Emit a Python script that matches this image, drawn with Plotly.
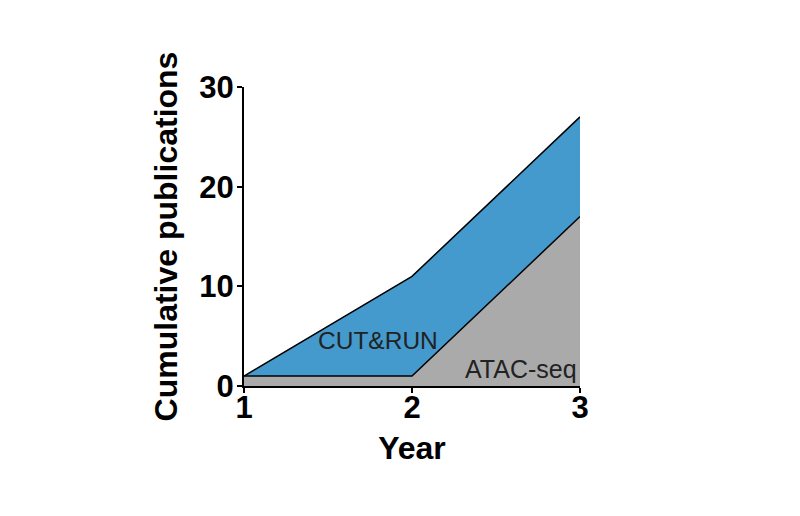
import plotly.graph_objects as go

years = [1, 2, 3]
cut_and_run = [1, 11, 27]
atac_seq = [1, 1, 17]

fig = go.Figure()

# gray area underneath, blue stacked on top of it
fig.add_trace(go.Scatter(x=years, y=atac_seq, mode="lines", name="ATAC-seq",
                         line=dict(color="black", width=1.5),
                         fill="tozeroy", fillcolor="#aaaaaa"))
fig.add_trace(go.Scatter(x=years, y=cut_and_run, mode="lines", name="CUT&RUN",
                         line=dict(color="black", width=1.5),
                         fill="tonexty", fillcolor="#4499cd"))

fig.add_annotation(x=1.8, y=4.6, text="CUT&RUN", showarrow=False,
                   font=dict(family="Liberation Sans", size=24.5, color="#222222"))
fig.add_annotation(x=2.65, y=1.7, text="ATAC-seq", showarrow=False,
                   font=dict(family="Liberation Sans", size=25, color="#222222"))

fig.update_xaxes(range=[1, 3], tickvals=years, showline=True, linecolor="black",
                 linewidth=2, ticks="outside", ticklen=5, tickwidth=2,
                 tickcolor="black", showgrid=False, zeroline=False,
                 ticklabelstandoff=-12,
                 tickfont=dict(family="Liberation Sans", size=31, color="black", weight="bold"),
                 title=dict(text="Year", standoff=12,
                            font=dict(family="Liberation Sans", size=32, color="black", weight="bold")))
fig.update_yaxes(range=[0, 30], tickvals=[0, 10, 20, 30], showline=True, linecolor="black",
                 linewidth=2, ticks="outside", ticklen=5, tickwidth=2,
                 tickcolor="black", showgrid=False, zeroline=False,
                 ticklabelstandoff=-3,
                 tickfont=dict(family="Liberation Sans", size=31, color="black", weight="bold"),
                 title=dict(text="Cumulative publications", standoff=12,
                            font=dict(family="Liberation Sans", size=32, color="black", weight="bold")))

fig.update_layout(width=800, height=516, showlegend=False,
                  plot_bgcolor="white", paper_bgcolor="white",
                  margin=dict(l=236, r=228, t=79, b=138))

fig.write_html("out.html")
